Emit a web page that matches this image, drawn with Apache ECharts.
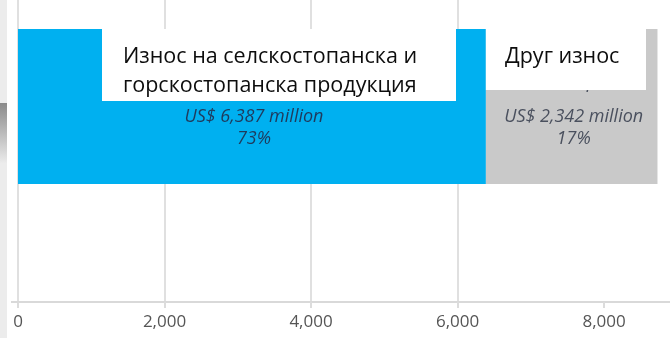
<!DOCTYPE html>
<html>
<head>
<meta charset="utf-8">
<script src="https://cdn.jsdelivr.net/npm/echarts@6/dist/echarts.min.js"></script>
<style>
  html, body { margin: 0; padding: 0; background: #ffffff; }
  #chart { width: 670px; height: 338px; }
</style>
</head>
<body>
<div id="chart"></div>
<script>
// Export structure, US$ million
const categories = ['Износ'];
const seriesNames = ['Agricultural and forestry exports', 'Other exports'];
const agriExports = [6387];
const otherExports = [2342];
const shares = ['73%', '17%'];
const captions = ['Износ на селскостопанска и\nгорскостопанска продукция', 'Друг износ'];
const xTicks = [0, 2000, 4000, 6000, 8000];

const fmt = v => v.toLocaleString('en-US');
const X_MAX = 8900;

const labelRich = (textColor) => {
  const base = { fontFamily: 'Open Sans', fontStyle: 'italic', fontSize: 18, color: textColor };
  return {
    show: true,
    position: 'inside',
    offset: [2, -2],
    formatter: p => `{h|${p.seriesName}}\n{v|US$ ${fmt(p.value)} million}\n{p|${shares[p.seriesIndex]}}`,
    rich: {
      h: Object.assign({ lineHeight: 46 }, base),
      v: Object.assign({ lineHeight: 22 }, base),
      p: Object.assign({ lineHeight: 22 }, base)
    }
  };
};

const chart = echarts.init(document.getElementById('chart'), null, { renderer: 'canvas' });

chart.setOption({
  animation: false,
  backgroundColor: '#ffffff',
  grid: [
    // axis frame: gridlines, axis line and tick labels
    { left: 18, right: 0, top: 0, bottom: 36, containLabel: false },
    // band holding the stacked bar
    { left: 18, right: 0, top: 0, height: 213, containLabel: false }
  ],
  xAxis: [
    {
      gridIndex: 0,
      type: 'value',
      min: 0,
      max: X_MAX,
      interval: 2000,
      axisLine: { show: true, lineStyle: { color: '#d9d9d9', width: 2 } },
      axisTick: { show: true, length: 6, customValues: xTicks, lineStyle: { color: '#dcdcdc', width: 2 } },
      splitLine: { show: true, showMaxLine: false, lineStyle: { color: '#e0e0e0', width: 2 } },
      axisLabel: {
        margin: 12,
        color: '#555555',
        fontFamily: 'Open Sans',
        fontSize: 17,
        showMaxLabel: false,
        formatter: v => (xTicks.includes(v) ? fmt(v) : '')
      }
    },
    {
      gridIndex: 1,
      type: 'value',
      min: 0,
      max: X_MAX,
      show: false,
      splitLine: { show: false }
    }
  ],
  yAxis: [
    { gridIndex: 0, type: 'category', data: categories, show: false },
    { gridIndex: 1, type: 'category', data: categories, show: false }
  ],
  series: [
    {
      name: seriesNames[0],
      type: 'bar',
      xAxisIndex: 1,
      yAxisIndex: 1,
      stack: 'exports',
      barWidth: 155,
      data: agriExports,
      itemStyle: { color: '#00b0f0' },
      label: labelRich('#1f3a5c')
    },
    {
      name: seriesNames[1],
      type: 'bar',
      xAxisIndex: 1,
      yAxisIndex: 1,
      stack: 'exports',
      barWidth: 155,
      data: otherExports,
      itemStyle: { color: '#c9c9c9' },
      label: labelRich('#4a505e')
    }
  ]
});

// Caption boxes laid over the top of each bar segment
const boundaryX = chart.convertToPixel({ xAxisIndex: 1 }, agriExports[0]);
const captionFont = { fontFamily: 'Open Sans', fontSize: 21.5, fill: '#0d0d0d' };

chart.setOption({
  graphic: [
    // left-hand strip
    { type: 'rect', left: 0, top: 0, shape: { width: 7, height: 338 }, style: { fill: '#ececec' }, z: 100 },
    {
      type: 'rect', left: 0, top: 103, shape: { width: 7, height: 60 }, z: 101,
      style: {
        fill: new echarts.graphic.LinearGradient(0, 0, 0, 1, [
          { offset: 0, color: '#8a8a8a' },
          { offset: 1, color: '#ebebeb' }
        ])
      }
    },
    // axis line stub left of zero
    { type: 'line', shape: { x1: 11, y1: 302, x2: 18, y2: 302 }, style: { stroke: '#d9d9d9', lineWidth: 2 }, z: 100 },
    // first caption
    { type: 'rect', shape: { x: 102, y: 29, width: 354, height: 72 }, style: { fill: '#ffffff' }, z: 100 },
    {
      type: 'text', x: 123, y: 42, z: 101,
      style: Object.assign({ text: captions[0], lineHeight: 29 }, captionFont)
    },
    // second caption
    { type: 'rect', shape: { x: boundaryX, y: 29, width: 646 - boundaryX, height: 61 }, style: { fill: '#ffffff' }, z: 100 },
    {
      type: 'text', x: 505, y: 42, z: 101,
      style: Object.assign({ text: captions[1], lineHeight: 29 }, captionFont)
    }
  ]
});
</script>
</body>
</html>
